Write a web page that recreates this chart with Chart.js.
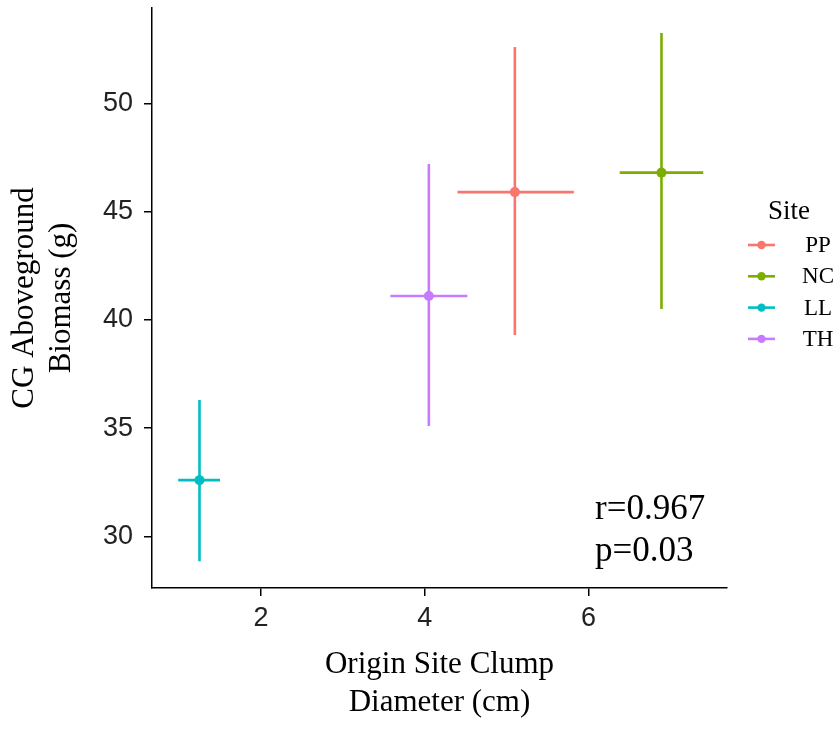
<!DOCTYPE html>
<html>
<head>
<meta charset="utf-8">
<script src="https://cdn.jsdelivr.net/npm/chart.js@4"></script>
<style>
  html, body { margin: 0; padding: 0; background: #fff; }
  #wrap { width: 839px; height: 729px; }
</style>
</head>
<body>
<div id="wrap"><canvas id="chart" width="839" height="729"></canvas></div>
<script>
  // data
  const sites = ["PP", "NC", "LL", "TH"];
  const siteColors = ["#F8766D", "#7CAE00", "#00BFC4", "#C77CFF"];
  const clumpMean = [5.10, 6.89, 1.25, 4.05];
  const clumpLow = [4.40, 6.38, 0.99, 3.58];
  const clumpHigh = [5.82, 7.40, 1.50, 4.52];
  const biomassMean = [45.9, 46.8, 32.6, 41.1];
  const biomassLow = [39.3, 40.5, 28.85, 35.1];
  const biomassHigh = [52.6, 53.25, 36.3, 47.2];
  const xTicks = [2, 4, 6];
  const yTicks = [30, 35, 40, 45, 50];
  const statsText = ["r=0.967", "p=0.03"];

  const serif = "'Liberation Serif', 'Times New Roman', serif";
  const sans = "'Liberation Sans', Arial, sans-serif";

  const datasets = sites.map((site, i) => ({
    label: site,
    data: [{ x: clumpMean[i], y: biomassMean[i] }],
    backgroundColor: siteColors[i],
    borderColor: siteColors[i],
    pointRadius: 5,
    pointBorderWidth: 0,
  }));

  const errorBars = {
    id: "errorBars",
    beforeDatasetsDraw(chart) {
      const { ctx, scales: { x, y } } = chart;
      ctx.save();
      ctx.lineWidth = 2.6;
      sites.forEach((site, i) => {
        ctx.strokeStyle = siteColors[i];
        const cx = x.getPixelForValue(clumpMean[i]);
        const cy = y.getPixelForValue(biomassMean[i]);
        ctx.beginPath();
        ctx.moveTo(cx, y.getPixelForValue(biomassLow[i]));
        ctx.lineTo(cx, y.getPixelForValue(biomassHigh[i]));
        ctx.moveTo(x.getPixelForValue(clumpLow[i]), cy);
        ctx.lineTo(x.getPixelForValue(clumpHigh[i]), cy);
        ctx.stroke();
      });
      ctx.restore();
    },
    afterDraw(chart) {
      const { ctx, chartArea } = chart;
      ctx.save();
      // r / p label, bottom right of the panel
      ctx.fillStyle = "#000";
      ctx.font = "35px " + serif;
      ctx.textBaseline = "middle";
      ctx.textAlign = "left";
      ctx.fillText(statsText[0], chartArea.right - 132, 510);
      ctx.fillText(statsText[1], chartArea.right - 132, 552);

      // legend
      const lx = chartArea.right + 21;
      ctx.font = "27px " + serif;
      ctx.fillText("Site", lx + 20, 212);
      ctx.font = "23px " + serif;
      ctx.textAlign = "center";
      sites.forEach((site, i) => {
        const ly = 245 + i * 31.3;
        ctx.strokeStyle = siteColors[i];
        ctx.fillStyle = siteColors[i];
        ctx.lineWidth = 2.6;
        ctx.beginPath();
        ctx.moveTo(lx, ly);
        ctx.lineTo(lx + 27, ly);
        ctx.stroke();
        ctx.beginPath();
        ctx.arc(lx + 13.5, ly, 4.2, 0, Math.PI * 2);
        ctx.fill();
        ctx.fillStyle = "#000";
        ctx.fillText(site, lx + 70, ly + 1);
      });
      ctx.restore();
    },
  };

  new Chart(document.getElementById("chart"), {
    type: "scatter",
    data: { datasets },
    plugins: [errorBars],
    options: {
      responsive: false,
      animation: false,
      layout: { padding: { top: 8, right: 112, left: 0, bottom: 0 } },
      plugins: { legend: { display: false }, tooltip: { enabled: false } },
      scales: {
        x: {
          type: "linear",
          min: 0.67,
          max: 7.69,
          afterBuildTicks: (scale) => { scale.ticks = xTicks.map((v) => ({ value: v })); },
          afterFit: (scale) => { scale.height = 141; scale.paddingLeft = 0; scale.paddingRight = 0; },
          border: { display: true, color: "#000", width: 1.5 },
          grid: { display: true, drawOnChartArea: false, drawTicks: true, tickLength: 8, color: "#000", lineWidth: 1.5 },
          ticks: { color: "#222", font: { family: sans, size: 27 }, padding: 6, maxRotation: 0 },
          title: {
            display: true,
            text: ["Origin Site Clump", "Diameter (cm)"],
            color: "#000",
            font: { family: serif, size: 31, lineHeight: 1.22 },
            padding: { top: 0, bottom: 7 },
          },
        },
        y: {
          type: "linear",
          min: 27.62,
          max: 54.4,
          afterBuildTicks: (scale) => { scale.ticks = yTicks.map((v) => ({ value: v })); },
          afterFit: (scale) => { scale.width = 152; scale.paddingTop = 0; scale.paddingBottom = 0; },
          border: { display: true, color: "#000", width: 1.5 },
          grid: { display: true, drawOnChartArea: false, drawTicks: true, tickLength: 8, color: "#000", lineWidth: 1.5 },
          ticks: { color: "#222", font: { family: sans, size: 27 }, padding: 11 },
          title: {
            display: true,
            text: ["CG Aboveground", "Biomass (g)"],
            color: "#000",
            font: { family: serif, size: 31, lineHeight: 1.2 },
            padding: { top: 6, bottom: 0 },
          },
        },
      },
    },
  });
</script>
</body>
</html>
